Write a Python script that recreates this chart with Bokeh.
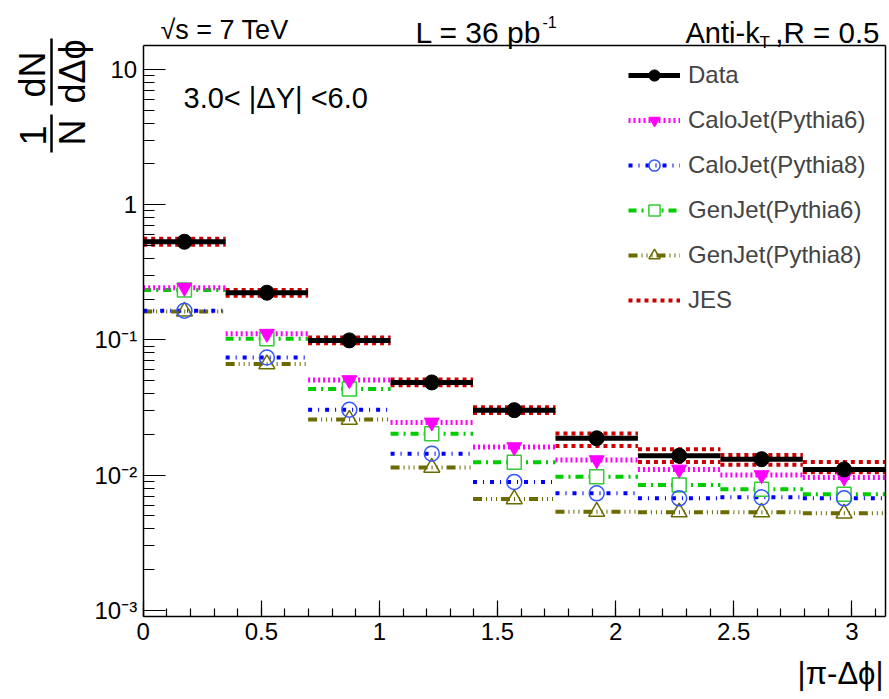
import numpy as np
from bokeh.plotting import figure
from bokeh.models import (Label, Legend, LegendItem, SingleIntervalTicker, LogTicker,
                          LinearAxis, LogAxis, Arrow, FixedTicker, Range1d)
from bokeh.embed import file_html
from bokeh.resources import INLINE

# ---------------- data ----------------
n_bins = 9
bin_edges = np.linspace(0.0, np.pi, n_bins + 1)
bin_lo = bin_edges[:-1]
bin_hi = bin_edges[1:]
bin_center = 0.5 * (bin_lo + bin_hi)

data_vals = [0.531, 0.223, 0.0990, 0.0484, 0.0302, 0.0187, 0.0139, 0.0131, 0.0110]
jes_up    = [0.558, 0.234, 0.1040, 0.0508, 0.0317, 0.0203, 0.0155, 0.0141, 0.0125]
jes_down  = [0.505, 0.212, 0.0943, 0.0461, 0.0288, 0.0164, 0.0125, 0.0119, 0.0105]
calo_p6   = [0.243, 0.111, 0.0504, 0.0245, 0.0161, 0.0129, 0.0110, 0.0100, 0.0096]
calo_p8   = [0.164, 0.074, 0.0304, 0.0144, 0.0089, 0.00733, 0.00673, 0.00684, 0.00673]
gen_p6    = [0.234, 0.102, 0.0432, 0.0202, 0.01245, 0.0097, 0.00844, 0.00784, 0.00721]
gen_p8    = [0.162, 0.0662, 0.0257, 0.01135, 0.00665, 0.00536, 0.00531, 0.00531, 0.00521]

series_names = ["Data", "CaloJet(Pythia6)", "CaloJet(Pythia8)", "GenJet(Pythia6)", "GenJet(Pythia8)", "JES"]

x_min, x_max = 0.0, np.pi
y_min, y_max = 9.0e-4, 15.0
y_tick_values = [0.001, 0.01, 0.1, 1, 10]
y_tick_labels = ["10\u207b\u00b3", "10\u207b\u00b2", "10\u207b\u00b9", "1", "10"]

# ---------------- layout (frame = whole canvas; plot box placed inside) ----------------
W, H = 889, 699
BOX_L, BOX_R, BOX_T, BOX_B = 142.7, 884.8, 45.0, 616.0   # pixel box of the data area
FONT = "Liberation Sans"

xs = (BOX_R - BOX_L) / (x_max - x_min)
x_start = x_min - BOX_L / xs
x_end = x_max + (W - BOX_R) / xs
dpp = (np.log10(y_max) - np.log10(y_min)) / (BOX_B - BOX_T)
y_end = 10 ** (np.log10(y_max) + BOX_T * dpp)
y_start = 10 ** (np.log10(y_min) - (H - BOX_B) * dpp)

p = figure(width=W, height=H, y_axis_type="log",
           x_range=Range1d(x_start, x_end), y_range=Range1d(y_start, y_end),
           x_axis_location=None, y_axis_location=None,
           output_backend="svg", toolbar_location=None,
           min_border=0, min_border_left=0, min_border_right=0,
           min_border_top=0, min_border_bottom=0)
p.grid.visible = False
p.outline_line_color = None
p.background_fill_color = "white"
p.border_fill_color = "white"

xaxis = LinearAxis(fixed_location=y_min, bounds=(x_min, x_max),
                   ticker=SingleIntervalTicker(interval=0.5, num_minor_ticks=5))
yaxis = LogAxis(fixed_location=x_min, bounds=(y_min, y_max),
                ticker=LogTicker(num_minor_ticks=10))
for ax in (xaxis, yaxis):
    ax.axis_line_width = 1.5
    ax.axis_line_color = "black"
    ax.major_tick_out = 0
    ax.minor_tick_out = 0
    ax.major_label_text_font = FONT
    ax.major_label_text_font_size = "24px"
    ax.major_label_text_color = "black"
    ax.major_tick_line_color = "black"
    ax.minor_tick_line_color = "black"
    ax.major_tick_line_width = 1.2
    ax.minor_tick_line_width = 1.2
    ax.major_label_standoff = 6
xaxis.major_tick_in = 16
xaxis.minor_tick_in = 8
yaxis.major_tick_in = 22
yaxis.minor_tick_in = 11
yaxis.major_label_overrides = {v: t for v, t in zip(y_tick_values, y_tick_labels)}
p.add_layout(xaxis, "below")
p.add_layout(yaxis, "left")

# top and right edges of the box
top_ax = LinearAxis(fixed_location=y_max, bounds=(x_min, x_max), ticker=FixedTicker(ticks=[]))
right_ax = LogAxis(fixed_location=x_max, bounds=(y_min, y_max), ticker=FixedTicker(ticks=[]))
for ax in (top_ax, right_ax):
    ax.axis_line_width = 1.5
    ax.axis_line_color = "black"
    ax.major_tick_line_color = None
    ax.minor_tick_line_color = None
    ax.major_label_text_alpha = 0
p.add_layout(top_ax, "above")
p.add_layout(right_ax, "right")

# ---------------- glyphs ----------------
RED, MAG, BLUE, GREEN, OLIVE = "#cc0000", "#ff00ff", "#0000ff", "#00cc00", "#6b6b00"

jes_r = p.segment(x0=bin_lo, x1=bin_hi, y0=jes_up, y1=jes_up, line_color=RED, line_width=4, line_dash="4 4")
p.segment(x0=bin_lo, x1=bin_hi, y0=jes_down, y1=jes_down, line_color=RED, line_width=4, line_dash="4 4")

olive_l = p.segment(x0=bin_lo, x1=bin_hi, y0=gen_p8, y1=gen_p8, line_color=OLIVE, line_width=4, line_dash="9 4 1 4 1 4 1 4")
green_l = p.segment(x0=bin_lo, x1=bin_hi, y0=gen_p6, y1=gen_p6, line_color=GREEN, line_width=4, line_dash="8 5 2 5")
blue_l = p.segment(x0=bin_lo, x1=bin_hi, y0=calo_p8, y1=calo_p8, line_color=BLUE, line_width=4, line_dash="4 6 1 6")
mag_l = p.segment(x0=bin_lo, x1=bin_hi, y0=calo_p6, y1=calo_p6, line_color=MAG, line_width=5, line_dash="2 3")

olive_m = p.scatter(x=bin_center, y=gen_p8, marker="triangle", size=16, fill_alpha=0, line_color=OLIVE, line_width=1.5)
green_m = p.scatter(x=bin_center, y=gen_p6, marker="square", size=14, fill_color="white", line_color="#33cc33", line_width=1.5)
blue_m = p.scatter(x=bin_center, y=calo_p8, marker="circle", size=15, fill_alpha=0, line_color="#3355ff", line_width=1.5)
mag_m = p.scatter(x=bin_center, y=calo_p6, marker="inverted_triangle", size=15, fill_color=MAG, line_color=MAG)

data_l = p.segment(x0=bin_lo, x1=bin_hi, y0=data_vals, y1=data_vals, line_color="black", line_width=5)
data_m = p.scatter(x=bin_center, y=data_vals, marker="circle", size=15, fill_color="black", line_color="black")

legend = Legend(items=[
    LegendItem(label=series_names[0], renderers=[data_l, data_m]),
    LegendItem(label=series_names[1], renderers=[mag_l, mag_m]),
    LegendItem(label=series_names[2], renderers=[blue_l, blue_m]),
    LegendItem(label=series_names[3], renderers=[green_l, green_m]),
    LegendItem(label=series_names[4], renderers=[olive_l, olive_m]),
    LegendItem(label=series_names[5], renderers=[jes_r]),
])
legend.location = (628, H - 314)
legend.margin = 0
legend.padding = 0
legend.spacing = 17
legend.glyph_width = 52
legend.glyph_height = 28
legend.label_height = 28
legend.label_standoff = 8
legend.label_text_font = FONT
legend.label_text_font_size = "24px"
legend.border_line_color = None
legend.background_fill_alpha = 0
p.add_layout(legend, "center")

# ---------------- texts (positions in canvas pixels, top-left origin) ----------------
def lab(text, px, py, size, align="left", baseline="alphabetic", angle=0.0):
    p.add_layout(Label(x=px, y=H - py, x_units="screen", y_units="screen",
                       text=text, text_font=FONT, text_font_size=size,
                       text_align=align, text_baseline=baseline, angle=angle,
                       text_color="black"))

lab("\u221as = 7 TeV", 160, 29, "27px")
lab("L = 36 pb", 415, 32, "30px")
lab("-1", 542, 21, "16px")
lab("Anti-k", 685, 32, "29px")
lab("T", 759, 42, "17px")
lab(",R = 0.5", 879, 32, "29.5px", align="right")
lab("3.0< |\u0394Y| <6.0", 183, 97, "29px")
lab("|\u03c0-\u0394\u03d5|", 883, 673, "31px", align="right")

# y-axis title as rotated fraction
lab("dN", 32, 74, "36px", align="center", baseline="middle", angle=np.pi / 2)
lab("d\u0394\u03d5", 72, 71, "36px", align="center", baseline="middle", angle=np.pi / 2)
lab("1", 32, 135, "36px", align="center", baseline="middle", angle=np.pi / 2)
lab("N", 72, 132, "36px", align="center", baseline="middle", angle=np.pi / 2)
for y0, y1 in [(38, 105), (114, 152)]:
    p.add_layout(Arrow(end=None, start=None, x_start=51, x_end=51,
                       y_start=H - y0, y_end=H - y1,
                       start_units="screen", end_units="screen",
                       line_color="black", line_width=2.5))

open("out.html", "w").write(file_html(p, INLINE))
